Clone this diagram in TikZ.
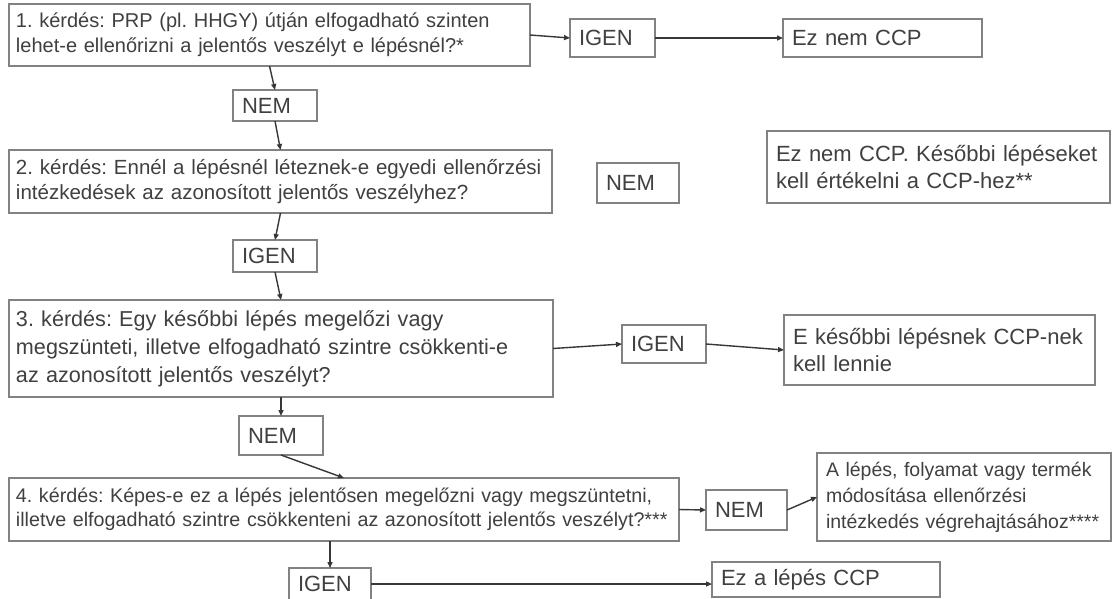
\documentclass[tikz,border=0pt]{standalone}
\usepackage{fontspec}
\setmainfont{Liberation Sans}
\usetikzlibrary{arrows.meta}
\definecolor{boxgray}{RGB}{130,130,130}
\definecolor{txtgray}{RGB}{64,64,64}
\definecolor{arrgray}{RGB}{55,55,55}
\frenchspacing
\tikzset{
  box/.style={draw=boxgray, line width=1.2pt, fill=white, anchor=north west,
    inner xsep=9pt, inner ysep=0pt, align=left, text=txtgray, outer sep=0pt},
  qbox/.style={box, inner xsep=7pt},
  arr/.style={draw=arrgray, line width=1.4pt, -{Triangle[length=6pt,width=5pt]}},
  fsmall/.style={font=\fontsize{19.5}{26}\selectfont},
  fq1/.style={font=\fontsize{20}{25}\selectfont},
  fq2/.style={font=\fontsize{20.5}{25}\selectfont},
  fq4/.style={font=\fontsize{19.7}{24}\selectfont},
  fbig/.style={font=\fontsize{22}{27}\selectfont},
  fq3/.style={font=\fontsize{21.6}{28}\selectfont},
}
\begin{document}
\begin{tikzpicture}[x=1pt,y=-1pt]
\useasboundingbox[fill=white] (0,0) rectangle (1113,598);
% left column
\node[qbox, fq1, minimum height=62pt, text width=507pt] (q1) at (9,4)
  {\mbox{1. kérdés: PRP (pl. HHGY) útján elfogadható szinten}\\\mbox{lehet-e ellenőrizni a jelentős veszélyt e lépésnél?*}};
\node[box, fbig, minimum height=31pt, text width=66pt] (nem1) at (233,90) {NEM};
\node[qbox, fq2, minimum height=63pt, text width=529pt] (q2) at (9,150)
  {\mbox{2. kérdés: Ennél a lépésnél léteznek-e egyedi ellenőrzési}\\\mbox{intézkedések az azonosított jelentős veszélyhez?}};
\node[box, fbig, minimum height=32pt, text width=66pt] (igen2) at (233,240) {IGEN};
\node[qbox, fq3, minimum height=97pt, text width=530pt] (q3) at (9,300)
  {\mbox{3. kérdés: Egy későbbi lépés megelőzi vagy}\\\mbox{megszünteti, illetve elfogadható szintre csökkenti-e}\\\mbox{az azonosított jelentős veszélyt?}};
\node[box, fbig, minimum height=39pt, text width=66pt] (nem3) at (239,416) {NEM};
\node[qbox, fq4, minimum height=63pt, text width=656pt] (q4) at (9,478)
  {\mbox{4. kérdés: Képes-e ez a lépés jelentősen megelőzni vagy megszüntetni,}\\\mbox{illetve elfogadható szintre csökkenteni az azonosított jelentős veszélyt?***}};
\node[box, fbig, minimum height=32pt, text width=64pt] (igen4) at (289,568) {IGEN};
% right side
\node[box, fbig, minimum height=38pt, text width=67pt] (igen1) at (570,19) {IGEN};
\node[box, fbig, minimum height=38pt, text width=181pt] (eznem1) at (783,19) {Ez nem CCP};
\node[box, fbig, minimum height=40pt, text width=64pt] (nem2) at (597,163) {NEM};
\node[box, fbig, minimum height=72pt, text width=325pt] (eznem2) at (767,131)
  {\mbox{Ez nem CCP. Későbbi lépéseket}\\kell értékelni a CCP-hez**};
\node[box, fbig, minimum height=38pt, text width=66pt] (igen3) at (622,325) {IGEN};
\node[box, fbig, minimum height=70pt, text width=293pt] (ekes) at (784,315)
  {\mbox{E későbbi lépésnek CCP-nek}\\kell lennie};
\node[box, fbig, minimum height=40pt, text width=63pt] (nem4) at (706,490) {NEM};
\node[box, fsmall, minimum height=88pt, text width=276pt] (alep) at (817,453)
  {\mbox{A lépés, folyamat vagy termék}\\módosítása ellenőrzési\\\mbox{intézkedés végrehajtásához****}};
\node[box, fbig, minimum height=35pt, text width=210pt] (ccp4) at (712,562) {Ez a lépés CCP};
% connectors
\draw[arr] (q1.east) -- (igen1.west);
\draw[arr] (igen1.east) -- (eznem1.west);
\draw[arr] (q1.south) -- (nem1.north);
\draw[arr] (nem1.south) -- (q2.north);
\draw[arr] (q2.south) -- (igen2.north);
\draw[arr] (igen2.south) -- (q3.north);
\draw[arr] (q3.east) -- (igen3.west);
\draw[arr] (igen3.east) -- (ekes.west);
\draw[arr] (nem3.north |- q3.south) -- (nem3.north);
\draw[arr] (nem3.south) -- (q4.north);
\draw[arr] (q4.east) -- (nem4.west);
\draw[arr] (nem4.east) -- (alep.west);
\draw[arr] (igen4.north |- q4.south) -- (igen4.north);
\draw[arr] (igen4.east) -- (ccp4.west |- igen4.east);
\end{tikzpicture}
\end{document}
